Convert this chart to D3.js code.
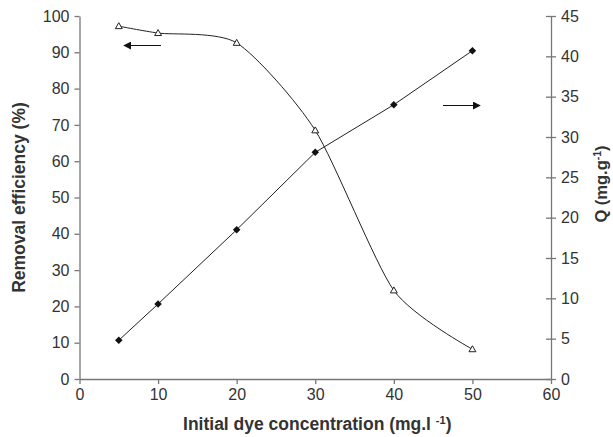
<!DOCTYPE html>
<html>
<head>
<meta charset="utf-8">
<script src="https://cdn.jsdelivr.net/npm/d3@7"></script>
<style>
  body { margin: 0; background: #fff; }
  svg text { font-family: "Liberation Sans", Arial, sans-serif; }
</style>
</head>
<body>
<div id="chart"></div>
<script>
// data
var conc = [5, 10, 20, 30, 40, 50];
var removal = [97.2, 95.3, 92.6, 68.5, 24.4, 8.2];   // left axis, %
var qValues = [4.8, 9.3, 18.5, 28.1, 34.0, 40.7];   // right axis, mg/g

var xTicks = [0, 10, 20, 30, 40, 50, 60];
var yLeftTicks = [0, 10, 20, 30, 40, 50, 60, 70, 80, 90, 100];
var yRightTicks = [0, 5, 10, 15, 20, 25, 30, 35, 40, 45];

// svg attributes
let svgWidth = 613;
let svgHeight = 437;
let margin = {left: 79.5, right: 62, top: 16, bottom: 58};

let svg = d3.select("#chart")
  .append("svg")
  .attr("width", svgWidth)
  .attr("height", svgHeight);

var xscale = d3.scaleLinear()
  .domain([0, 60])
  .range([margin.left, svgWidth - margin.right]);

var yLeft = d3.scaleLinear()
  .domain([0, 100])
  .range([svgHeight - margin.bottom, margin.top]);

var yRight = d3.scaleLinear()
  .domain([0, 45])
  .range([svgHeight - margin.bottom, margin.top]);

let axisColor = "#777";
let labelColor = "#333";

function styleAxis(g) {
  g.select(".domain").attr("stroke", axisColor).attr("stroke-width", 1.3);
  g.selectAll(".tick line").attr("stroke", axisColor).attr("stroke-width", 1.3);
  g.selectAll(".tick text")
    .attr("fill", labelColor)
    .style("font-size", "16px");
}

// x axis
svg.append("g")
  .attr("transform", "translate(0," + yLeft(0) + ")")
  .call(d3.axisBottom(xscale).tickValues(xTicks).tickSize(5).tickSizeOuter(0).tickPadding(5))
  .call(styleAxis);

// left y axis
svg.append("g")
  .attr("transform", "translate(" + xscale(0) + ",0)")
  .call(d3.axisLeft(yLeft).tickValues(yLeftTicks).tickSize(5).tickSizeOuter(0).tickPadding(5))
  .call(styleAxis);

// right y axis, ticks cross the line
let rightAxis = svg.append("g")
  .attr("transform", "translate(" + xscale(60) + ",0)")
  .call(d3.axisRight(yRight).tickValues(yRightTicks).tickSize(5).tickSizeOuter(0).tickPadding(5))
  .call(styleAxis);
rightAxis.selectAll(".tick line").attr("x1", -5);

// Q series, straight segments with filled diamonds
svg.append("path")
  .datum(conc)
  .attr("fill", "none")
  .attr("stroke", "#222")
  .attr("stroke-width", 1)
  .attr("d", d3.line()
    .x((d) => xscale(d))
    .y((d, i) => yRight(qValues[i])));

svg.selectAll(".diamond")
  .data(conc)
  .enter()
  .append("path")
  .attr("class", "diamond")
  .attr("d", d3.symbol().type(d3.symbolDiamond2).size(36))
  .attr("transform", (d, i) => "translate(" + xscale(d) + "," + yRight(qValues[i]) + ")")
  .attr("fill", "#111");

// removal series, smoothed curve with open triangles
svg.append("path")
  .datum(conc)
  .attr("fill", "none")
  .attr("stroke", "#222")
  .attr("stroke-width", 1)
  .attr("d", d3.line()
    .curve(d3.curveCardinal.tension(0.3))
    .x((d) => xscale(d))
    .y((d, i) => yLeft(removal[i])));

svg.selectAll(".tri")
  .data(conc)
  .enter()
  .append("path")
  .attr("class", "tri")
  .attr("d", d3.symbol().type(d3.symbolTriangle2).size(34))
  .attr("transform", (d, i) => "translate(" + xscale(d) + "," + (yLeft(removal[i]) + 0.5) + ")")
  .attr("fill", "#fff")
  .attr("stroke", "#222")
  .attr("stroke-width", 1);

// arrows pointing at the matching axis
svg.append("defs").append("marker")
  .attr("id", "head")
  .attr("viewBox", "0 0 10 10")
  .attr("refX", 9)
  .attr("refY", 5)
  .attr("markerWidth", 8)
  .attr("markerHeight", 8)
  .attr("markerUnits", "userSpaceOnUse")
  .attr("orient", "auto")
  .append("path")
  .attr("d", "M0,0 L10,5 L0,10 Z")
  .attr("fill", "#111");

svg.append("line")
  .attr("x1", 161).attr("y1", 45.5)
  .attr("x2", 124).attr("y2", 45.5)
  .attr("stroke", "#111")
  .attr("stroke-width", 1.2)
  .attr("marker-end", "url(#head)");

svg.append("line")
  .attr("x1", 443).attr("y1", 105.5)
  .attr("x2", 480).attr("y2", 105.5)
  .attr("stroke", "#111")
  .attr("stroke-width", 1.2)
  .attr("marker-end", "url(#head)");

// axis titles
let xTitle = svg.append("text")
  .attr("x", (xscale(0) + xscale(60)) / 2 + 2)
  .attr("y", 430)
  .attr("text-anchor", "middle")
  .style("font-size", "17.5px")
  .style("font-weight", "bold")
  .attr("fill", labelColor);
xTitle.append("tspan").text("Initial dye concentration (mg.l ");
xTitle.append("tspan").attr("dy", -6).style("font-size", "11px").text("-1");
xTitle.append("tspan").attr("dy", 6).text(")");

svg.append("text")
  .attr("transform", "translate(25," + yLeft(50) + ") rotate(-90)")
  .attr("text-anchor", "middle")
  .style("font-size", "17.5px")
  .style("font-weight", "bold")
  .attr("fill", labelColor)
  .text("Removal efficiency (%)");

let rTitle = svg.append("text")
  .attr("transform", "translate(607,184) rotate(-90)")
  .attr("text-anchor", "middle")
  .style("font-size", "16.5px")
  .style("font-weight", "bold")
  .attr("fill", labelColor);
rTitle.append("tspan").text("Q (mg.g");
rTitle.append("tspan").attr("dy", -6).style("font-size", "10.5px").text("-1");
rTitle.append("tspan").attr("dy", 6).text(")");
</script>
</body>
</html>
